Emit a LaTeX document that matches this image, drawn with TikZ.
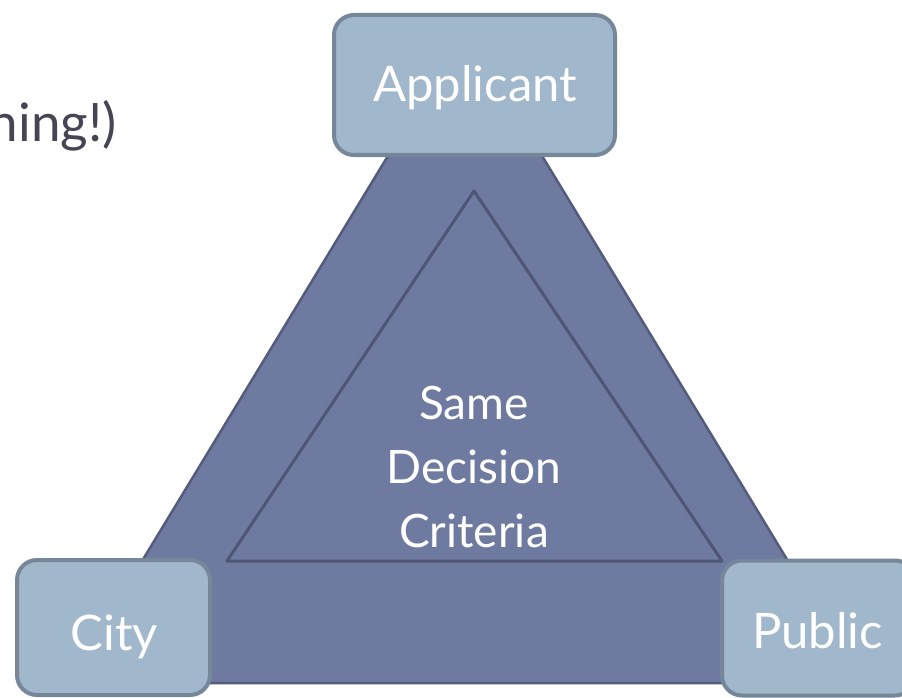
\documentclass[tikz,border=0pt]{standalone}
\usepackage{fontspec}
\setmainfont{Lato}
\definecolor{trifill}{HTML}{6F7AA0}
\definecolor{tristroke}{HTML}{535C7C}
\definecolor{innerstroke}{HTML}{4E5675}
\definecolor{boxfill}{HTML}{A0B7CC}
\definecolor{boxstroke}{HTML}{758798}
\definecolor{textgray}{HTML}{454553}
\begin{document}
\begin{tikzpicture}[x=1pt,y=-1pt,
  partybox/.style={draw=boxstroke,fill=boxfill,line width=4pt,rounded corners=20pt,
    minimum width=193pt,minimum height=135pt,inner sep=0pt},
  boxlabel/.style={anchor=base,text=white,font=\fontsize{49}{58}\selectfont,inner sep=0pt},
  centerlabel/.style={anchor=base,text=white,font=\fontsize{46}{54}\selectfont,inner sep=0pt}]
\useasboundingbox (0,0) rectangle (902,698);
\clip (0,0) rectangle (902,698);
% outer triangle
\coordinate (oa) at (465,29);
\coordinate (ob) at (68,683);
\coordinate (oc) at (862,683);
\draw[fill=trifill,draw=tristroke,line width=2.5pt,line join=round] (oa) -- (ob) -- (oc) -- cycle;
% inner triangle
\coordinate (ia) at (474,191);
\coordinate (ib) at (227,561);
\coordinate (ic) at (722,561);
\draw[draw=innerstroke,line width=3pt,line join=round] (ia) -- (ib) -- (ic) -- cycle;
% centre text
\node[centerlabel] (same) at (474,419) {Same};
\node[centerlabel] (decision) at (474,483) {Decision};
\node[centerlabel] (criteria) at (474,547) {Criteria};
% boxes
\node[partybox,minimum width=281pt,minimum height=140pt] (applicant) at (474.5,85) {};
\node[partybox] (city) at (113.5,627.5) {};
\node[partybox] (public) at (818.5,628) {};
\node[boxlabel] (applicanttext) at (475,102) {Applicant};
\node[boxlabel] (citytext) at (114.5,650) {City};
\node[boxlabel] (publictext) at (817.5,648) {Public};
% heading text, cut off at the left edge as in the reference
\node[anchor=base east,text=textgray,font=\fontsize{53}{60}\selectfont,inner sep=0pt] (heading) at (117,142) {hing!)};
\end{tikzpicture}
\end{document}
